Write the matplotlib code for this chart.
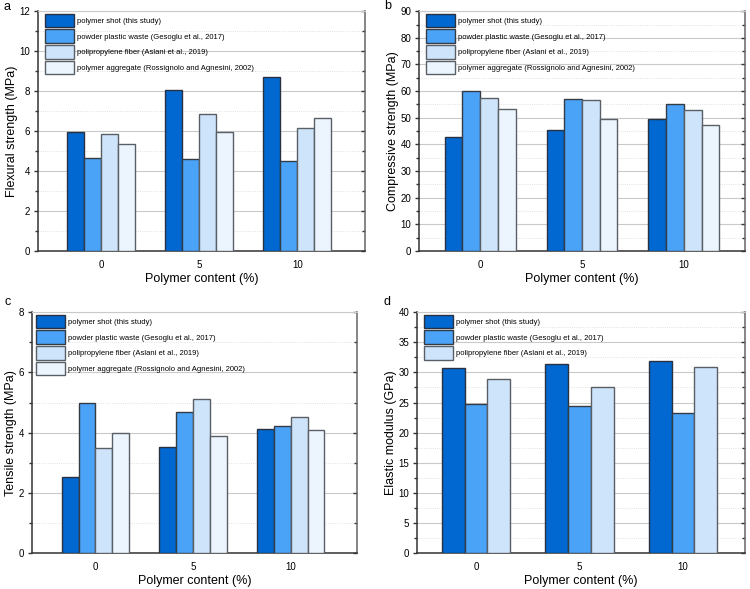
import numpy as np
import matplotlib
matplotlib.use("Agg")
from matplotlib import pyplot as plt
from matplotlib.ticker import MultipleLocator
from matplotlib.lines import TICKLEFT

plt.rcParams['font.family'] = ['Liberation Sans', 'DejaVu Sans']

# data
contents = ['0', '5', '10']
series = ['polymer shot (this study)',
          'powder plastic waste (Gesoglu et al., 2017)',
          'polipropylene fiber (Aslani et al., 2019)',
          'polymer aggregate (Rossignolo and Agnesini, 2002)']

flexural = [[5.95, 8.07, 8.69],
            [4.64, 4.58, 4.48],
            [5.84, 6.87, 6.13],
            [5.33, 5.94, 6.66]]
compressive = [[42.8, 45.3, 49.4],
               [60.0, 57.0, 55.2],
               [57.5, 56.6, 52.8],
               [53.3, 49.7, 47.4]]
tensile = [[2.52, 3.52, 4.11],
           [4.99, 4.69, 4.22],
           [3.50, 5.12, 4.52],
           [4.00, 3.89, 4.10]]
elastic = [[30.65, 31.45, 31.85],
           [24.8, 24.45, 23.3],
           [28.95, 27.6, 30.95]]

colors = ['#0068D0', '#4BA3F7', '#CDE4FA', '#ECF5FE']
edges = ['#2a3140', '#353b45', '#5a5f66', '#5a5f66']


def draw(ax, data, ylabel, ymax, major, minor, width, xlim, legend_anchor):
    x = np.arange(len(contents))
    n = len(data)
    for i, vals in enumerate(data):
        pos = x + (i - (n - 1) / 2) * width
        ax.bar(pos, vals, width, color=colors[i], edgecolor=edges[i],
               linewidth=1.0, label=series[i], zorder=3)
    ax.set_xlim(*xlim)
    ax.set_ylim(0, ymax)
    ax.set_xticks(x)
    ax.set_xticklabels(contents, fontsize=7)
    ax.tick_params(axis='x', length=0, pad=6.5)
    ax.yaxis.set_major_locator(MultipleLocator(major))
    ax.yaxis.set_minor_locator(MultipleLocator(minor))
    ax.tick_params(axis='y', which='major', direction='out', length=3,
                   width=1, labelsize=7, pad=2.5, color='#333333', right=True)
    ax.tick_params(axis='y', which='minor', direction='out', length=2,
                   width=1, color='#333333', right=True)
    # right-side ticks point inward
    for t in ax.yaxis.get_major_ticks() + ax.yaxis.get_minor_ticks():
        t.tick2line.set_marker(TICKLEFT)
    ax.grid(axis='y', which='major', color='#c9c9c9', linewidth=0.8, zorder=0)
    ax.grid(axis='y', which='minor', color='#d9d9d9', linewidth=0.6,
            linestyle=':', zorder=0)
    ax.spines['top'].set_color('#c9c9c9')
    ax.spines['left'].set_color('#333333')
    ax.spines['bottom'].set_color('#333333')
    ax.spines['right'].set_color('#666666')
    for s in ['left', 'bottom', 'right']:
        ax.spines[s].set_linewidth(1.1)
    ax.set_ylabel(ylabel, fontsize=9, labelpad=1)
    ax.set_xlabel('Polymer content (%)', fontsize=9, labelpad=2)
    ax.legend(loc='upper left', bbox_to_anchor=legend_anchor, frameon=False,
              fontsize=5.5, handlelength=3.8, handleheight=2.4,
              labelspacing=0.25, handletextpad=0.4, borderpad=0,
              borderaxespad=0)


fig = plt.figure(figsize=(7.5, 5.89), dpi=100)
ax_a = fig.add_axes([0.0507, 0.574, 0.436, 0.407])
ax_b = fig.add_axes([0.5587, 0.574, 0.4347, 0.407])
ax_c = fig.add_axes([0.0427, 0.061, 0.4333, 0.409])
ax_d = fig.add_axes([0.556, 0.061, 0.4373, 0.409])

draw(ax_a, flexural, 'Flexural strength (MPa)', 12, 2, 1, 0.173,
     (-0.64, 2.69), (0.02, 0.99))
draw(ax_b, compressive, 'Compressive strength (MPa)', 90, 10, 5, 0.174,
     (-0.60, 2.60), (0.02, 0.99))
draw(ax_c, tensile, 'Tensile strength (MPa)', 8, 2, 1, 0.173,
     (-0.65, 2.68), (0.012, 0.99))
draw(ax_d, elastic, 'Elastic modulus (GPa)', 40, 5, 2.5, 0.22,
     (-0.57, 2.60), (0.02, 0.99))

for letter, lx, ly in [('a', 0.004, 0.988), ('b', 0.512, 0.99),
                       ('c', 0.006, 0.487), ('d', 0.512, 0.487)]:
    fig.text(lx, ly, letter, fontsize=9, ha='left', va='center')

fig.savefig('out.png', dpi=100)
